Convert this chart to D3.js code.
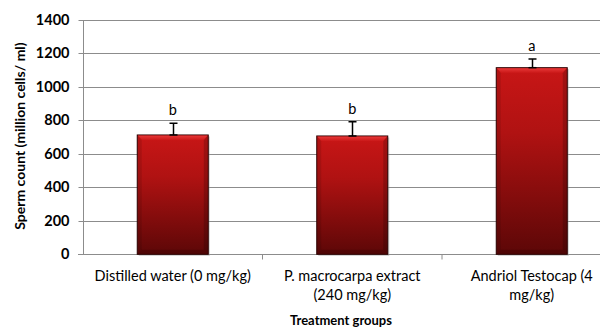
<!DOCTYPE html>
<html><head><meta charset="utf-8">
<script src="https://cdn.jsdelivr.net/npm/d3@7"></script>
<style>body{margin:0;background:#fff}svg{display:block}text{font-family:Lato,"Open Sans",sans-serif}</style>
</head><body><div id="c"></div>
<script>
const categories = [["Distilled water (0 mg/kg)"], ["P. macrocarpa extract", "(240 mg/kg)"], ["Andriol Testocap (4", "mg/kg)"]];
const values = [713, 707, 1115];
const errors = [70, 85, 52];
const letters = ["b", "b", "a"];
const yTicks = [0, 200, 400, 600, 800, 1000, 1200, 1400];

const W = 600, H = 329;
const svg = d3.select("#c").append("svg").attr("width", W).attr("height", H);
const defs = svg.append("defs");
const g = defs.append("linearGradient").attr("id", "bg").attr("x1", 0).attr("y1", 0).attr("x2", 0).attr("y2", 1);
g.append("stop").attr("offset", "0%").attr("stop-color", "#c81616");
g.append("stop").attr("offset", "35%").attr("stop-color", "#b01212");
g.append("stop").attr("offset", "100%").attr("stop-color", "#5c0707");
const gl = defs.append("linearGradient").attr("id", "bevel").attr("x1", 0).attr("y1", 0).attr("x2", 0).attr("y2", 1);
gl.append("stop").attr("offset", "0%").attr("stop-color", "#f04040");
gl.append("stop").attr("offset", "100%").attr("stop-color", "#c81616");

const x = d3.scaleBand().domain(d3.range(categories.length)).range([83, 621.5]).paddingInner(0.6).paddingOuter(0.3);
const y = d3.scaleLinear().domain([0, 1400]).range([254.3, 20]);

// gridlines
svg.append("g").selectAll("line").data(yTicks.filter(d => d > 0)).join("line")
  .attr("x1", 83).attr("x2", W).attr("y1", d => Math.round(y(d)) + 0.5).attr("y2", d => Math.round(y(d)) + 0.5)
  .attr("stroke", "#8c8c8c").attr("stroke-width", 1);

// y axis
const yAxis = d3.axisLeft(y).tickValues(yTicks).tickFormat(d3.format("d")).tickSize(5).tickPadding(9);
const ya = svg.append("g").attr("transform", "translate(83.5,0)").call(yAxis);
ya.select(".domain").attr("stroke", "#8c8c8c").attr("d", `M0,${y(1400)}V${y(0)}`);
ya.selectAll(".tick line").attr("stroke", "#8c8c8c");
ya.selectAll(".tick text").attr("font-size", 14.5).attr("font-weight", "bold").attr("fill", "#000");
ya.selectAll(".tick").attr("transform", d => `translate(0,${Math.round(y(d)) + 0.5})`);

// x axis line
const y0 = Math.round(y(0)) + 0.5;
svg.append("line").attr("x1", 78).attr("x2", W).attr("y1", y0).attr("y2", y0).attr("stroke", "#8c8c8c");
// category ticks
svg.append("g").selectAll("line").data(d3.range(1, categories.length)).join("line")
  .attr("x1", i => 83 + i * (621.5 - 83) / categories.length).attr("x2", i => 83 + i * (621.5 - 83) / categories.length)
  .attr("y1", y0).attr("y2", y0 + 5).attr("stroke", "#8c8c8c");

// bars
const bw = 71;
const bars = svg.append("g").selectAll("g").data(values).join("g");
bars.append("rect").attr("x", (d, i) => x(i) + x.bandwidth() / 2 - bw / 2 + 1.5).attr("y", d => y(d) + 1.5)
  .attr("width", bw).attr("height", d => y(0) - y(d)).attr("fill", "#9a9a9a").attr("opacity", 0.5);
bars.append("rect").attr("x", (d, i) => x(i) + x.bandwidth() / 2 - bw / 2).attr("y", d => y(d))
  .attr("width", bw).attr("height", d => y(0) - y(d)).attr("fill", "url(#bg)").attr("stroke", "#2a0000").attr("stroke-width", 1);
// top bevel
bars.append("path").attr("d", (d, i) => {
  const l = x(i) + x.bandwidth() / 2 - bw / 2 + 0.5, r = l + bw - 1, t = y(d) + 0.5;
  return `M${l},${t}L${r},${t}L${r - 5},${t + 5}L${l + 5},${t + 5}Z`;
}).attr("fill", "url(#bevel)").attr("opacity", 0.8);
// side bevels
bars.append("path").attr("d", (d, i) => {
  const l = x(i) + x.bandwidth() / 2 - bw / 2 + 0.5, t = y(d) + 0.5, b = y(0) - 0.5;
  return `M${l},${t}L${l + 4},${t + 5}L${l + 4},${b - 4}L${l},${b}Z`;
}).attr("fill", "#000").attr("opacity", 0.1);
bars.append("path").attr("d", (d, i) => {
  const r = x(i) + x.bandwidth() / 2 + bw / 2 - 0.5, t = y(d) + 0.5, b = y(0) - 0.5;
  return `M${r},${t}L${r - 4},${t + 5}L${r - 4},${b - 4}L${r},${b}Z`;
}).attr("fill", "#000").attr("opacity", 0.18);
bars.append("path").attr("d", (d, i) => {
  const l = x(i) + x.bandwidth() / 2 - bw / 2 + 0.5, r = l + bw - 1, b = y(0) - 0.5;
  return `M${l},${b}L${l + 4},${b - 4}L${r - 4},${b - 4}L${r},${b}Z`;
}).attr("fill", "#000").attr("opacity", 0.15);

// error bars
const eb = svg.append("g").attr("stroke", "#000").attr("stroke-width", 1.5);
values.forEach((v, i) => {
  const cx = Math.round(x(i) + x.bandwidth() / 2) + 0.5;
  eb.append("line").attr("x1", cx).attr("x2", cx).attr("y1", y(v + errors[i])).attr("y2", y(v));
  eb.append("line").attr("x1", cx - 4).attr("x2", cx + 4).attr("y1", y(v + errors[i])).attr("y2", y(v + errors[i]));
  eb.append("line").attr("x1", cx - 4).attr("x2", cx + 4).attr("y1", y(v)).attr("y2", y(v));
});

// letters
svg.append("g").selectAll("text").data(letters).join("text")
  .attr("x", (d, i) => x(i) + x.bandwidth() / 2).attr("y", (d, i) => y(values[i] + errors[i]) - 8)
  .attr("text-anchor", "middle").attr("font-size", 14.5).text(d => d);

// category labels
const cl = svg.append("g").selectAll("text").data(categories).join("text")
  .attr("text-anchor", "middle").attr("font-size", 14.5)
  .attr("x", (d, i) => x(i) + x.bandwidth() / 2).attr("y", 281);
cl.selectAll("tspan").data(d => d).join("tspan")
  .attr("x", function () { return d3.select(this.parentNode).attr("x"); })
  .attr("dy", (d, j) => j === 0 ? 0 : 19).text(d => d);

// axis titles
svg.append("text").attr("x", 341).attr("y", 325).attr("text-anchor", "middle")
  .attr("font-size", 13).attr("font-weight", "bold").text("Treatment groups");
svg.append("text").attr("transform", "translate(25,136) rotate(-90)").attr("text-anchor", "middle")
  .attr("font-size", 14).attr("font-weight", "bold").text("Sperm count (million cells/ ml)");
</script></body></html>
